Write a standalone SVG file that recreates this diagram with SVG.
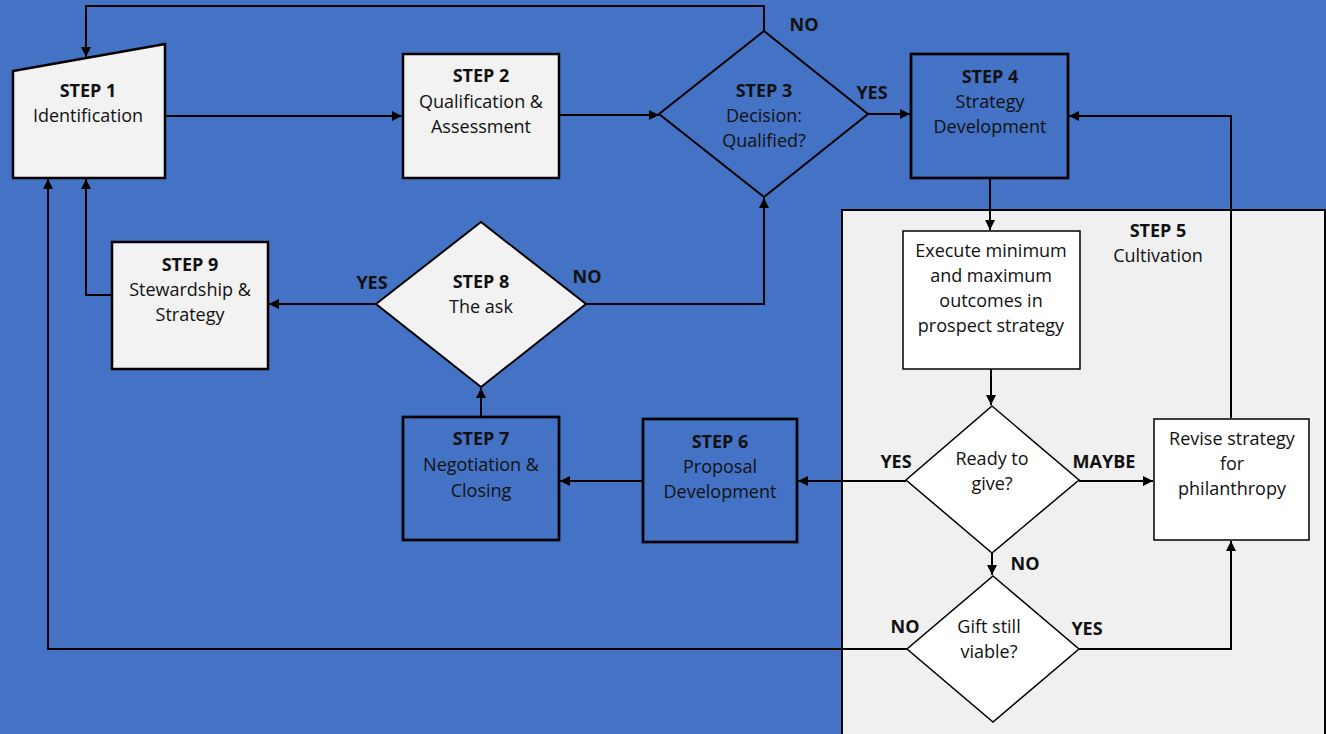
<svg xmlns="http://www.w3.org/2000/svg" width="1326" height="734" viewBox="0 0 1326 734">
<style>
text{font-family:"Open Sans","Liberation Sans",sans-serif;font-size:18px;fill:#111;text-anchor:middle}
.b{font-weight:bold}
.lt{fill:#F2F2F2;stroke:#000;stroke-width:2.5}
.bl{fill:#4472C4;stroke:#000;stroke-width:2.7}
.wh{fill:#FFFFFF;stroke:#000;stroke-width:1.5}
.dm{stroke-width:2}
.cn{fill:none;stroke:#000;stroke-width:2}
.ar{marker-end:url(#ah)}
</style>
<defs>
<marker id="ah" viewBox="0 0 10 10" refX="10" refY="5" markerWidth="11" markerHeight="10" orient="auto" markerUnits="userSpaceOnUse"><path d="M0,0 L10,5 L0,10 z" fill="#000"/></marker>
</defs>
<rect x="0" y="0" width="1326" height="734" fill="#4472C4"/>
<g id="step5">
<rect x="842" y="210" width="483" height="540" fill="#F0F0F0" stroke="#000" stroke-width="2"/>
<text class="b" x="1158" y="237">STEP 5</text>
<text x="1158" y="262">Cultivation</text>
</g>
<g id="step1">
<polygon class="lt" points="13,71 165,44 165,178 13,178"/>
<text class="b" x="88" y="97">STEP 1</text>
<text x="88" y="122">Identification</text>
</g>
<g id="step2">
<rect class="lt" x="403" y="54" width="156" height="124"/>
<text class="b" x="481" y="82">STEP 2</text>
<text x="481" y="108">Qualification &amp;</text>
<text x="481" y="133">Assessment</text>
</g>
<g id="step3">
<polygon class="bl dm" points="764,31 868,114 764,197 659,114"/>
<text class="b" x="764" y="97">STEP 3</text>
<text x="764" y="122">Decision:</text>
<text x="764" y="147">Qualified?</text>
</g>
<g id="step4">
<rect class="bl" x="911" y="54" width="157" height="124"/>
<text class="b" x="990" y="83">STEP 4</text>
<text x="990" y="108">Strategy</text>
<text x="990" y="133">Development</text>
</g>
<g id="execute">
<rect class="wh" x="903" y="231" width="177" height="138"/>
<text x="991" y="257">Execute minimum</text>
<text x="991" y="282">and maximum</text>
<text x="991" y="307">outcomes in</text>
<text x="991" y="332">prospect strategy</text>
</g>
<g id="ready">
<polygon class="wh" points="992,406 1079,480 992,553 906,480"/>
<text x="992" y="465">Ready to</text>
<text x="992" y="490">give?</text>
</g>
<g id="revise">
<rect class="wh" x="1154" y="419" width="155" height="121"/>
<text x="1232" y="445">Revise strategy</text>
<text x="1232" y="470">for</text>
<text x="1232" y="495">philanthropy</text>
</g>
<g id="gift">
<polygon class="wh" points="993,576 1079,649 993,722 907,649"/>
<text x="989" y="633">Gift still</text>
<text x="989" y="658">viable?</text>
</g>
<g id="step6">
<rect class="bl" x="643" y="419" width="154" height="123"/>
<text class="b" x="720" y="448">STEP 6</text>
<text x="720" y="473">Proposal</text>
<text x="720" y="498">Development</text>
</g>
<g id="step7">
<rect class="bl" x="403" y="417" width="156" height="123"/>
<text class="b" x="481" y="445">STEP 7</text>
<text x="481" y="471">Negotiation &amp;</text>
<text x="481" y="497">Closing</text>
</g>
<g id="step8">
<polygon class="lt dm" points="481,222 586,304 481,387 376,304"/>
<text class="b" x="481" y="288">STEP 8</text>
<text x="481" y="313">The ask</text>
</g>
<g id="step9">
<rect class="lt" x="112" y="242" width="156" height="127"/>
<text class="b" x="190" y="271">STEP 9</text>
<text x="190" y="296">Stewardship &amp;</text>
<text x="190" y="321">Strategy</text>
</g>
<g id="connectors">
<path class="cn ar" d="M764,31 V6 H86 V57"/>
<path class="cn ar" d="M165,116 H402"/>
<path class="cn ar" d="M559,115 H659"/>
<path class="cn ar" d="M868,114 H910"/>
<path class="cn ar" d="M990,178 V230"/>
<path class="cn ar" d="M991,369 V405"/>
<path class="cn ar" d="M1079,481 H1153"/>
<path class="cn ar" d="M906,481 H798"/>
<path class="cn ar" d="M992,553 V575"/>
<path class="cn ar" d="M1079,649 H1231 V541"/>
<path class="cn ar" d="M907,649 H48 V179"/>
<path class="cn ar" d="M1231,418 V116 H1069"/>
<path class="cn ar" d="M643,481 H560"/>
<path class="cn ar" d="M481,417 V388"/>
<path class="cn ar" d="M376,304 H269"/>
<path class="cn ar" d="M586,304 H764 V198"/>
<path class="cn ar" d="M112,295 H86 V179"/>
<text class="b" x="804" y="31">NO</text>
<text class="b" x="872" y="99">YES</text>
<text class="b" x="896" y="468">YES</text>
<text class="b" x="1104" y="468">MAYBE</text>
<text class="b" x="1025" y="570">NO</text>
<text class="b" x="905" y="633">NO</text>
<text class="b" x="1087" y="635">YES</text>
<text class="b" x="372" y="289">YES</text>
<text class="b" x="587" y="283">NO</text>
</g>
</svg>
